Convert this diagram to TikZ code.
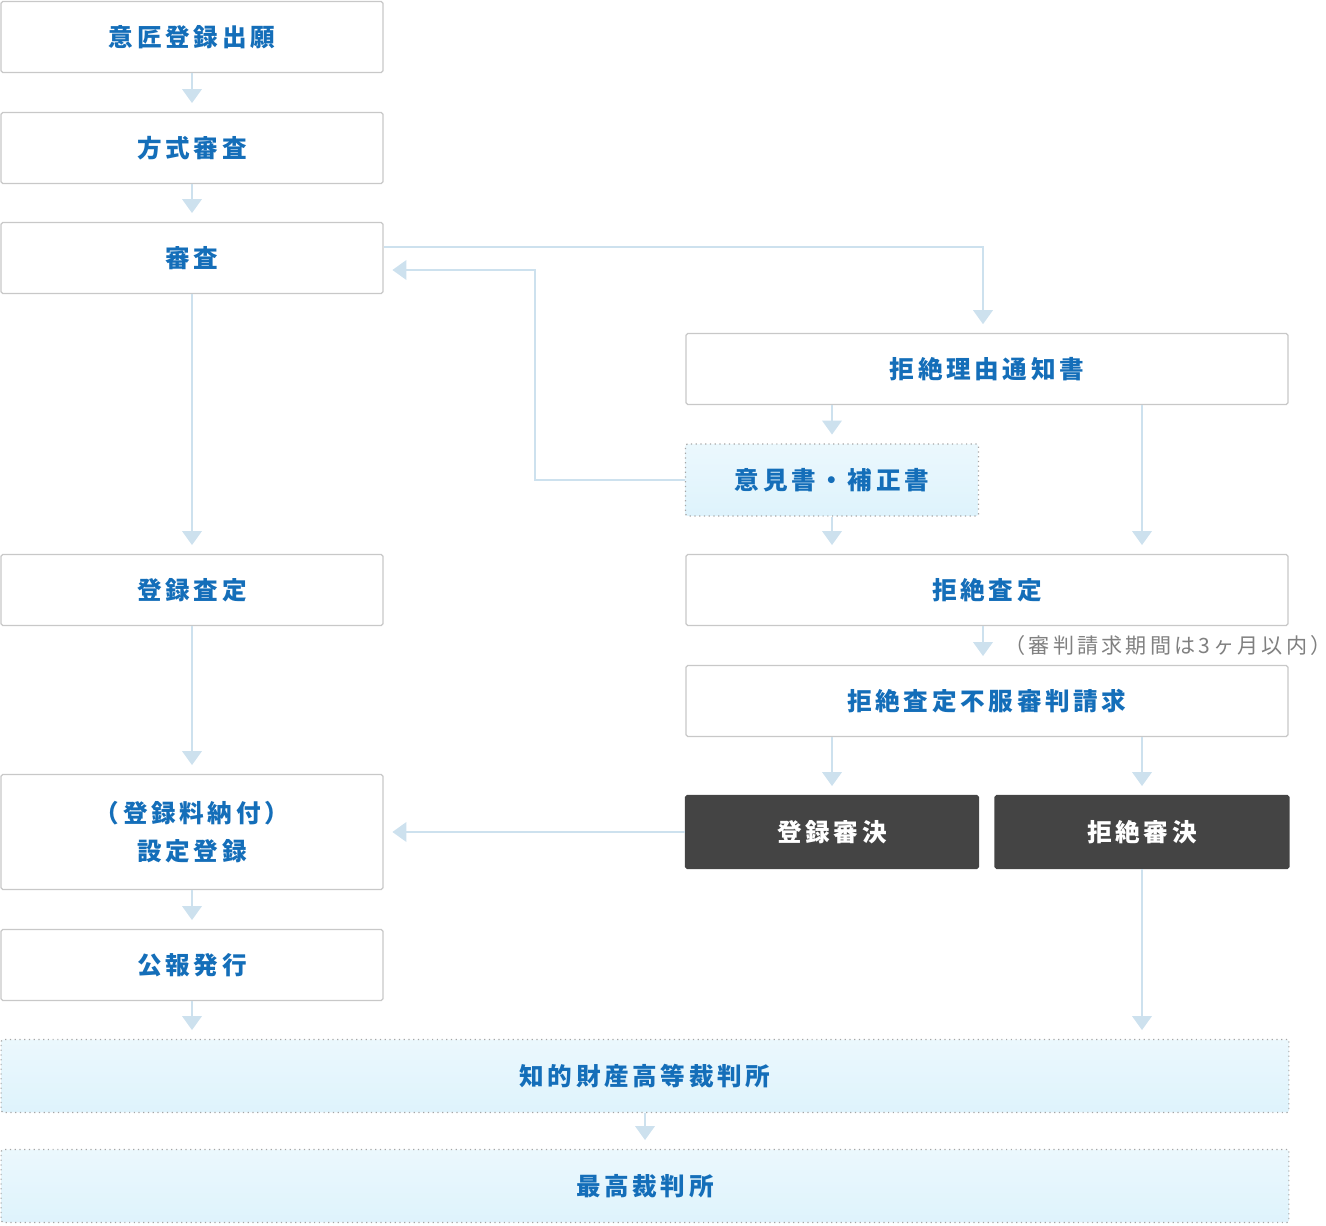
\documentclass[tikz,border=0pt]{standalone}
\usepackage{fontspec}
\setmainfont{Noto Sans CJK JP}
\newfontfamily\spacedfont[LetterSpace=15]{Noto Sans CJK JP}
\usepackage{tikz}
\usetikzlibrary{arrows.meta}
\definecolor{linkblue}{RGB}{20,110,185}
\definecolor{arrowblue}{RGB}{205,225,238}
\definecolor{boxgray}{RGB}{200,200,200}
\definecolor{darkbox}{RGB}{68,68,68}
\definecolor{paleblue}{RGB}{222,243,252}

\begin{document}
\begin{tikzpicture}[x=0.02cm,y=-0.02cm,
  flow/.style={draw=arrowblue,line width=1.6pt,-{Triangle[length=8pt,width=11pt]},shorten >=5pt},
  main node/.style={rectangle,draw=boxgray,fill=white,line width=0.7pt,rounded corners=1pt,
    text=linkblue,font=\spacedfont\fontsize{14}{22}\selectfont\bfseries,align=center,inner sep=0pt},
  side node/.style={main node,draw=gray!70,dotted,top color=paleblue!60!white,bottom color=paleblue},
  dark node/.style={main node,draw=darkbox,fill=darkbox,text=white}]
  \useasboundingbox (0,0) rectangle (1326,1226);
  \node[main node,minimum width=7.64cm,minimum height=1.42cm] (apply) at (192,37) {意匠登録出願};
  \node[main node,minimum width=7.64cm,minimum height=1.42cm] (formal) at (192,148) {方式審査};
  \node[main node,minimum width=7.64cm,minimum height=1.42cm] (exam) at (192,258) {審査};
  \node[main node,minimum width=12.04cm,minimum height=1.42cm] (notice) at (987,369) {拒絶理由通知書};
  \node[side node,minimum width=5.86cm,minimum height=1.44cm] (opinion) at (832,480) {意見書・補正書};
  \node[main node,minimum width=7.64cm,minimum height=1.42cm] (grant) at (192,590) {登録査定};
  \node[main node,minimum width=12.04cm,minimum height=1.42cm] (reject) at (987,590) {拒絶査定};
  \node[text=gray,font=\spacedfont\fontsize{12}{14}\selectfont] (period) at (1168,645) {（審判請求期間は3ヶ月以内）};
  \node[main node,minimum width=12.04cm,minimum height=1.42cm] (appeal) at (987,701) {拒絶査定不服審判請求};
  \node[main node,minimum width=7.64cm,minimum height=2.3cm] (register) at (192,832) {（登録料納付）\\設定登録};
  \node[dark node,minimum width=5.86cm,minimum height=1.46cm] (okdec) at (832,832) {登録審決};
  \node[dark node,minimum width=5.88cm,minimum height=1.46cm] (ngdec) at (1142,832) {拒絶審決};
  \node[main node,minimum width=7.64cm,minimum height=1.42cm] (gazette) at (192,965) {公報発行};
  \node[side node,minimum width=25.76cm,minimum height=1.46cm] (ipcourt) at (645,1076) {知的財産高等裁判所};
  \node[side node,minimum width=25.76cm,minimum height=1.46cm] (supreme) at (645,1186) {最高裁判所};

  \draw[flow] (apply) -- (formal);
  \draw[flow] (formal) -- (exam);
  \draw[flow] (exam.south) -- (grant.north);
  \draw[flow] (exam.east |- 0,247) -| (983,333);
  \draw[flow] (opinion.west) -| (535,270) -- (exam.east |- 0,270);
  \draw[flow] (notice.south -| opinion) -- (opinion);
  \draw[flow] (notice.south -| ngdec) -- (reject.north -| ngdec);
  \draw[flow] (opinion) -- (reject.north -| opinion);
  \draw[flow] (grant) -- (register);
  \draw[flow] (reject.south -| 983,0) -- (appeal.north -| 983,0);
  \draw[flow] (appeal.south -| okdec) -- (okdec);
  \draw[flow] (appeal.south -| ngdec) -- (ngdec);
  \draw[flow] (okdec) -- (register);
  \draw[flow] (register) -- (gazette);
  \draw[flow] (gazette) -- (ipcourt.north -| gazette);
  \draw[flow] (ngdec) -- (ipcourt.north -| ngdec);
  \draw[flow] (ipcourt) -- (supreme);
\end{tikzpicture}
\end{document}
